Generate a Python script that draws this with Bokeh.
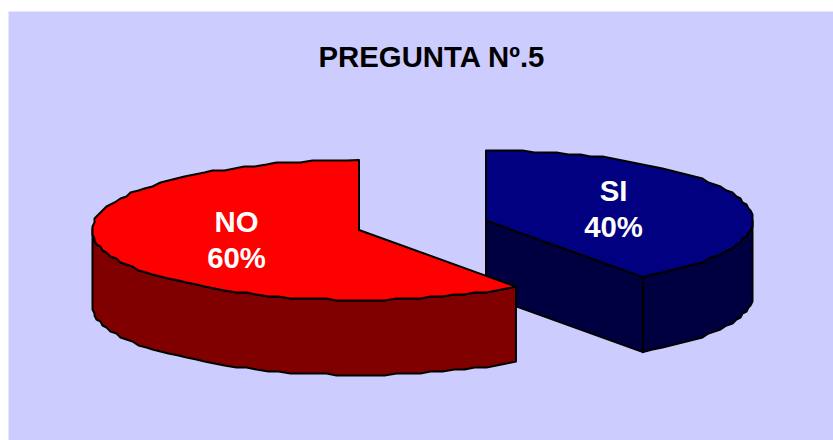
import numpy as np
from bokeh.plotting import figure
from bokeh.models import Range1d
from bokeh.core.properties import value
from bokeh.embed import file_html
from bokeh.resources import INLINE

title_text = "PREGUNTA Nº.5"
categories = ["SI", "NO"]
percents = [40, 60]
top_colors = ["#000080", "#FF0000"]
side_colors = ["#000040", "#800000"]
centers_x = [485.5, 358.5]
centers_y = [220, 229.5]
label_x = [613, 236]
label_y = [189.5, 220.5]

RX, RY, DEPTH = 267, 70, 75
JAG = 2.0          # the source polygon's coarse vertex grid


def arc(cx, cy, a0, a1):
    n = max(2, int(abs(a1 - a0) * 180 / np.pi / 2.5))
    t = np.linspace(a0, a1, n)
    x = cx + RX * np.cos(t)
    y = cy - RY * np.sin(t)
    x[1:-1] = np.round(x[1:-1] / JAG) * JAG
    y[1:-1] = np.round(y[1:-1] / JAG) * JAG
    return x, y, t


p = figure(width=833, height=440, output_backend="svg", toolbar_location=None,
           x_range=Range1d(8, 833), y_range=Range1d(440, 11),
           min_border_left=8, min_border_right=0, min_border_bottom=0, min_border_top=11,
           background_fill_color="#CCCCFF", border_fill_color="#FFFFFF",
           outline_line_color=None)
p.xaxis.visible = False
p.yaxis.visible = False
p.grid.visible = False

LW = 2
# slices start at twelve o'clock: SI runs clockwise, NO runs counter-clockwise
for i in range(len(categories)):
    frac = percents[i] / sum(percents)
    sweep = 2 * np.pi * frac
    cx, cy = centers_x[i], centers_y[i]
    if categories[i] == "SI":
        a0, a1 = np.pi / 2, np.pi / 2 - sweep
    else:
        a0, a1 = np.pi / 2, np.pi / 2 + sweep
    ax, ay, t = arc(cx, cy, a0, a1)

    # cut face of SI, facing the viewer
    if categories[i] == "SI":
        p.patch([cx, ax[-1], ax[-1], cx], [cy, ay[-1], ay[-1] + DEPTH, cy + DEPTH],
                fill_color=side_colors[i], line_color="black", line_width=LW, line_join="round")

    # outer wall: only the front part of the rim
    front = np.sin(t) <= 0.02
    wx, wy = ax[front], ay[front]
    p.patch(np.r_[wx, wx[::-1]], np.r_[wy, wy[::-1] + DEPTH],
            fill_color=side_colors[i], line_color="black", line_width=LW, line_join="round")

    # top face
    p.patch(np.r_[cx, ax], np.r_[cy, ay],
            fill_color=top_colors[i], line_color="black", line_width=LW, line_join="round")

FONT = value("Liberation Sans")
SIZE = "29.33px"
p.text([431.5], [56], text=[title_text], text_font=FONT, text_font_style="bold",
       text_font_size=SIZE, text_color="black", text_align="center", text_baseline="middle")
p.text(label_x, label_y, text=categories, text_font=FONT, text_font_style="bold",
       text_font_size=SIZE, text_color="white", text_align="center", text_baseline="middle")
p.text(label_x, [y + 36.5 for y in label_y], text=[f"{v}%" for v in percents], text_font=FONT,
       text_font_style="bold", text_font_size=SIZE, text_color="white",
       text_align="center", text_baseline="middle")

open("out.html", "w").write(file_html(p, INLINE))
